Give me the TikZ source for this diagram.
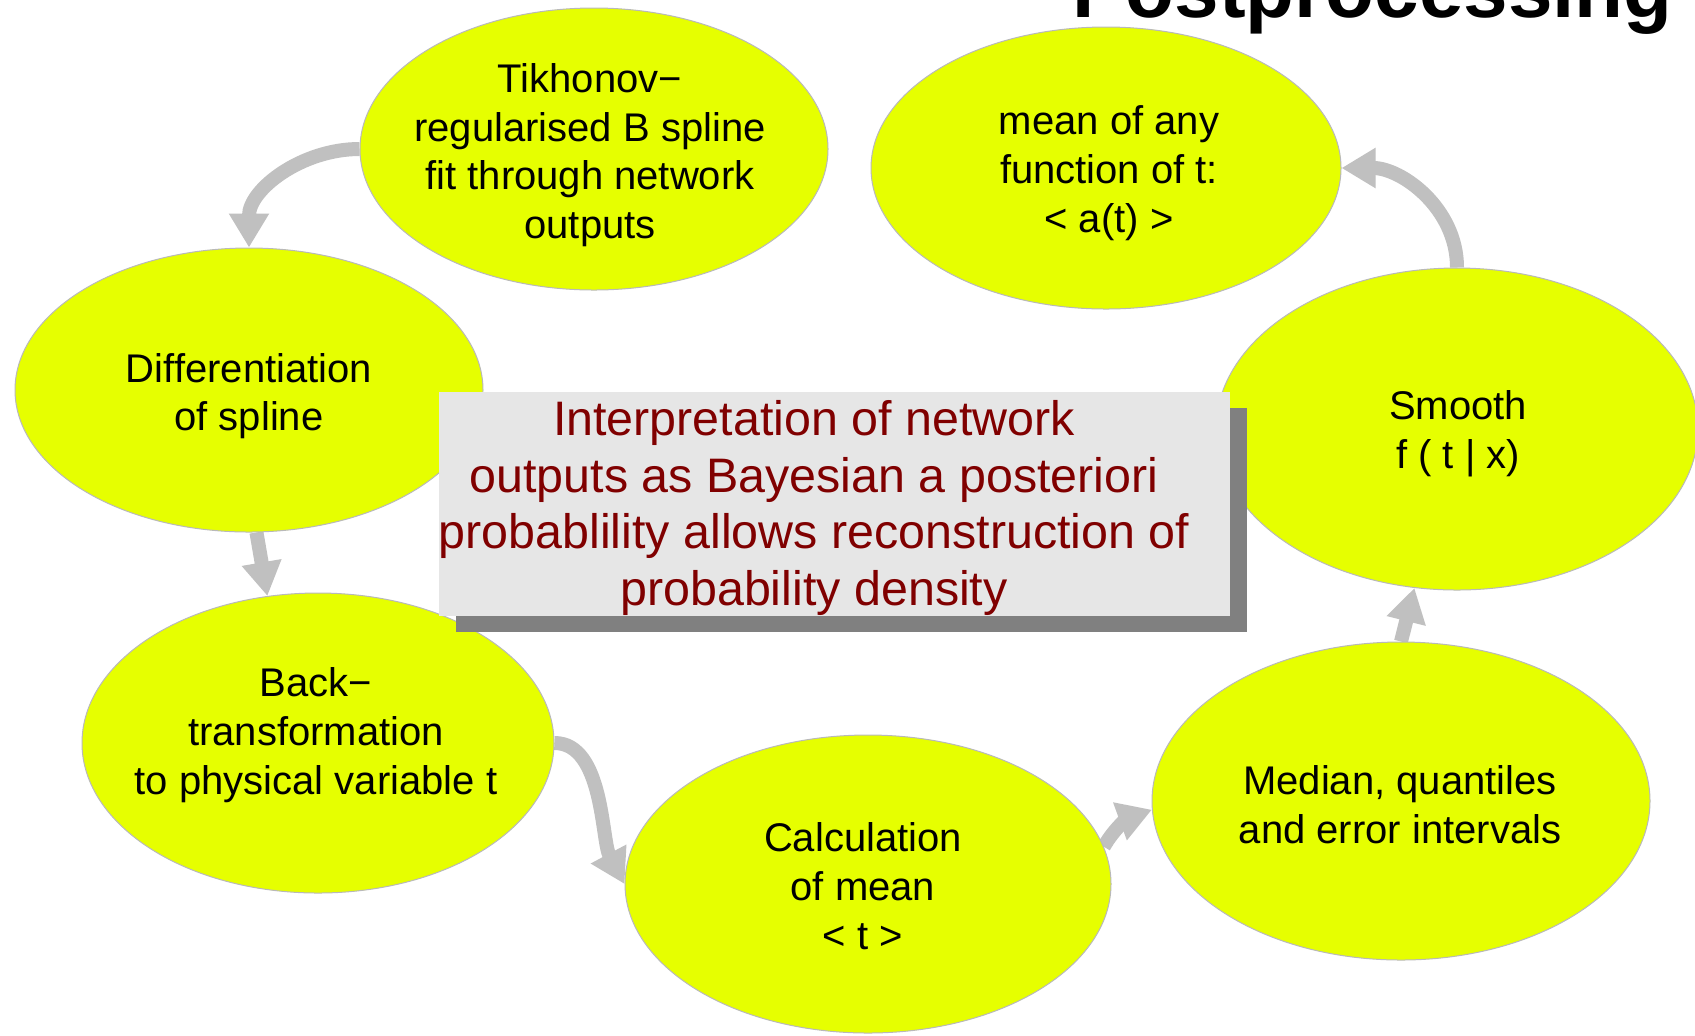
\documentclass[tikz,border=0pt]{standalone}
\usepackage{fontspec}
\setmainfont{Liberation Sans}
\usetikzlibrary{shapes.geometric,arrows.meta,shadows}
\definecolor{bubblefill}{RGB}{230,255,0}
\definecolor{bubbleline}{RGB}{185,185,185}
\definecolor{flowgray}{RGB}{192,192,192}
\definecolor{notefill}{RGB}{230,230,230}
\definecolor{noteshadow}{RGB}{128,128,128}
\definecolor{notetext}{RGB}{128,0,0}
\pgfdeclarelayer{bg}
\pgfsetlayers{bg,main}
\begin{document}
\begin{tikzpicture}[x=0.5pt,y=-0.5pt,
  bubble/.style={ellipse, draw=bubbleline, line width=0.5pt, fill=bubblefill, inner sep=0pt},
  bubbletext/.style={align=center, inner sep=0pt, font=\fontsize{20}{24.35}\selectfont},
  flow/.style={draw=flowgray, line width=7pt, -{Triangle[width=19pt,length=17pt]}},
  note/.style={rectangle, fill=notefill, inner sep=0pt,
    drop shadow={shadow xshift=8.5pt, shadow yshift=-8pt, fill=noteshadow, opacity=1}},
  notetext/.style={align=center, inner sep=0pt, text=notetext, font=\fontsize{24.2}{28.25}\selectfont}
]
\useasboundingbox (0,0) rectangle (1695,1035);

% heading, cut by the top edge
\node[anchor=base west, inner sep=0pt, font=\fontsize{40}{48}\selectfont\bfseries] (title) at (1072,17) {Postprocessing};

% processing steps
\node[bubble, minimum width=234pt, minimum height=141pt] (tik) at (594,149) {};
\node[bubble, minimum width=235pt, minimum height=141pt] (mean) at (1106,168) {};
\node[bubble, minimum width=234pt, minimum height=142pt] (diff) at (249,390) {};
\node[bubble, minimum width=241pt, minimum height=161pt] (smooth) at (1457,429) {};
\node[bubble, minimum width=236pt, minimum height=150pt] (back) at (318,743) {};
\node[bubble, minimum width=243pt, minimum height=149pt] (calc) at (868,884) {};
\node[bubble, minimum width=249pt, minimum height=159pt] (median) at (1401,801) {};

\node[bubbletext] (tik-t) at (590,155) {Tikhonov−\\regularised B spline\\fit through network\\outputs};
\node[bubbletext] (mean-t) at (1109,173) {mean of any\\function of t:\\< a(t) >};
\node[bubbletext] (diff-t) at (249,396) {Differentiation\\of spline};
\node[bubbletext] (smooth-t) at (1458,434) {Smooth\\f ( t | x)};
\node[bubbletext] (back-t) at (316,735) {Back−\\transformation\\to physical variable t};
\node[bubbletext] (calc-t) at (863,886) {Calculation\\of mean\\< t >};
\node[bubbletext] (median-t) at (1400,805) {Median, quantiles\\and error intervals};

% central remark with its shadow
\node[note, minimum width=395.5pt, minimum height=112pt] (box) at (834.5,504) {};
\node[notetext] (box-t) at (814,508) {Interpretation of network\\outputs as Bayesian a posteriori\\probablility allows reconstruction of\\probability density};

% connectors, drawn beneath the bubbles
\begin{pgfonlayer}{bg}
\fill[white] (0,0) rectangle (1695,1035);
\draw[flow] (tik.west) to[out=180, in=90] (diff.north);
\draw[flow] (diff.-87) -- (back.109);
\draw[flow] (back.east) to[out=0, in=118, looseness=0.8] (calc.west);
\draw[flow] (calc.9) to[out=60, in=200] (median.182);
\draw[flow] (median.north) -- (smooth.-105);
\draw[flow] (smooth.north) to[out=90, in=0] (mean.east);
\end{pgfonlayer}
\end{tikzpicture}
\end{document}
